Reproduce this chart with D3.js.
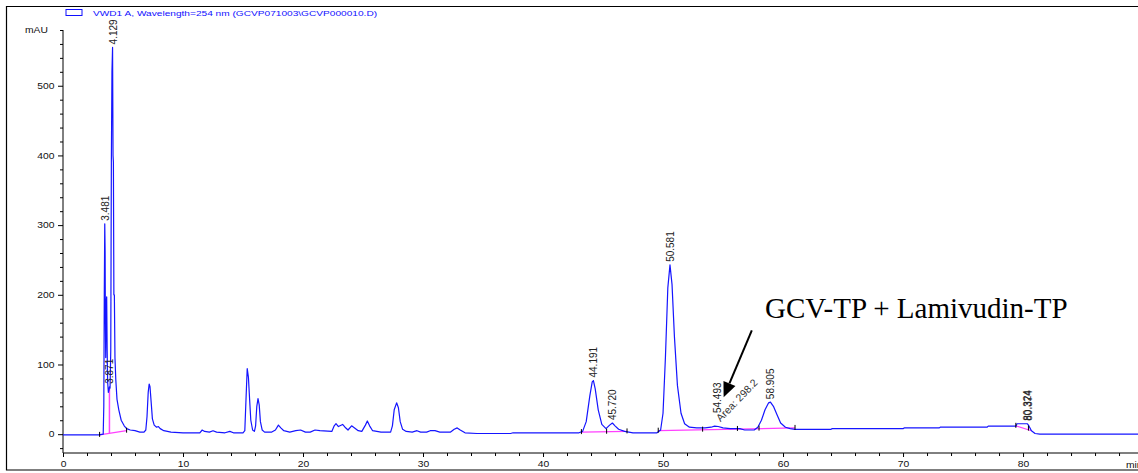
<!DOCTYPE html>
<html>
<head>
<meta charset="utf-8">
<script src="https://cdn.jsdelivr.net/npm/d3@7"></script>
<style>
  body { margin: 0; background: #fff; }
  svg { display: block; font-family: Arial, "Liberation Sans", sans-serif; }
</style>
</head>
<body>
<div id="chart"></div>
<script>
// detector trace: [retention time (min), absorbance (mAU)]
var trace = [
  [0,-1],[3.0,-1],[3.35,0],[3.40,40],[3.44,200],[3.48,302],[3.51,260],[3.53,160],[3.56,110],[3.60,190],
  [3.64,197],[3.68,120],[3.72,75],[3.78,60],[3.84,64],[3.87,68],[3.92,66],[3.98,120],[4.03,390],[4.08,520],
  [4.13,555],[4.17,400],[4.20,390],[4.24,200],[4.28,200],[4.33,110],[4.40,78],[4.5,50],[4.65,35],[4.85,20],
  [5.1,12],[5.3,8],[5.6,6],[6.0,5],[6.4,3],[6.75,3],
  [6.9,6],[7.0,25],[7.1,60],[7.18,72],[7.25,68],[7.35,45],[7.45,22],[7.6,13],[7.8,10],[7.95,11],
  [8.1,8],[8.4,5],[9.0,3],[10.0,2],[11.4,2],[11.6,6],[11.8,4],[12.2,3],[12.5,5],[12.8,3],
  [13.5,2],[13.9,4],[14.2,2],[15.0,2],
  [15.15,5],[15.25,50],[15.35,94],[15.45,82],[15.55,50],[15.65,20],[15.8,6],[15.95,4],[16.05,12],[16.15,40],
  [16.25,51],[16.35,42],[16.45,18],[16.6,6],[16.8,3],[17.4,3],[17.7,6],[17.95,13],[18.15,9],[18.4,5],
  [18.9,3],[19.4,5],[19.8,6],[20.2,3],[20.6,3],[21.0,6],[21.4,5],[22.4,4],[22.6,12],[22.75,15],
  [22.95,11],[23.3,14],[23.5,10],[23.75,6],[24.05,12],[24.3,9],[24.6,5],[24.9,4],[25.2,13],[25.36,19],
  [25.55,12],[25.8,5],[26.5,3],[27.3,3],
  [27.45,12],[27.6,35],[27.8,45],[27.95,38],[28.1,18],[28.3,7],[28.6,4],[29.1,3],[29.5,5],[29.8,3],
  [30.3,3],[30.6,5],[31.0,5],[31.4,3],[32.3,3],[32.6,7],[32.85,9],[33.1,6],[33.5,2],[34.5,1],
  [37.3,1],[37.5,2],[43.0,2],
  [43.3,4],[43.6,18],[43.9,55],[44.1,75],[44.2,77],[44.35,65],[44.6,35],[44.9,14],[45.25,8],[45.55,13],
  [45.78,16],[46.0,12],[46.3,7],[46.8,4],[47.5,2],[49.5,2],[49.8,6],[50.0,30],[50.2,110],[50.4,210],
  [50.58,243],[50.75,215],[50.95,140],[51.2,70],[51.5,30],[51.8,15],[52.2,10],[52.8,9],[53.5,9],[54.0,10],
  [54.3,11.5],[54.6,11],[55.0,9],[55.6,8],[56.4,8],[56.8,6],[57.6,6],[57.9,10],[58.2,20],[58.5,35],
  [58.8,45],[58.95,46],[59.2,40],[59.5,28],[59.8,16],[60.2,10],[60.6,8],[61.0,7],[64.0,7],[64.1,8],
  [70.0,8],[70.1,9],[73.0,9],[73.1,10],[77.0,10],[77.1,11.5],[79.4,11.5],[79.5,15],[80.35,15],[80.45,13],
  [80.7,5],[81.0,1],[81.4,0],[89.6,0]
];

// integration baselines (pink): [t0, v0, t1, v1]
var baselines = [[3.05,-1,5.3,5],[43.2,3,47.0,4],[49.6,5,61.0,9],[79.4,12,80.7,5]];
// peak start/stop tick marks on the baselines: [t, mAU]
var baseTicks = [[3.05,-1],[5.3,5],[43.2,3],[45.3,3.5],[47.0,4],[49.6,5],[53.3,6.5],[56.2,7.5],[58.0,8],[61.0,9],[79.4,12],[80.45,8]];
// drop line under the 3.871 shoulder
var dropLine = [3.87, 1.5, 65];

// peak labels: retention time and the level the label starts from
var peakRT = [3.481, 3.871, 4.129, 44.191, 45.720, 50.581, 54.493, 58.905, 80.324, 80.374];
var peakH  = [302, 68, 555, 77, 16, 243, 26, 46, 15, 15];

// axes
var yMajor = [0, 100, 200, 300, 400, 500];
var xMajor = [0, 10, 20, 30, 40, 50, 60, 70, 80];

var legendText = "VWD1 A, Wavelength=254 nm (GCVP071003\\GCVP000010.D)";
var noteText = "GCV-TP + Lamivudin-TP";
var areaText = "Area: 298.2";

var width = 1138, height = 473;
var svg = d3.select("#chart").append("svg")
  .attr("width", width).attr("height", height);

var x = d3.scaleLinear().domain([0, 89.58]).range([63, 1138]);
var y = d3.scaleLinear().domain([-27, 580]).range([453, 30]);

var stretch = 1.2;   // the instrument font is drawn wide
var tickFont = 8.6;

// outer frame
svg.append("path")
  .attr("d", "M1138,6.5H6.5V470H1138")
  .attr("fill", "none").attr("stroke", "#000").attr("stroke-width", 1.2);

// legend
svg.append("rect").attr("x", 66).attr("y", 9.5).attr("width", 16).attr("height", 6)
  .attr("fill", "none").attr("stroke", "#1010ff").attr("stroke-width", 1);
svg.append("text").attr("transform", "translate(93,16) scale(1.3,1)")
  .attr("font-size", 7.8).attr("fill", "#1010ff").text(legendText);

// y axis
var yAxis = d3.axisLeft(y).tickValues(d3.range(-20, 581, 20))
  .tickSize(3).tickFormat(function(d){ return yMajor.indexOf(d) >= 0 ? d : ""; });
var gy = svg.append("g").attr("transform", "translate(63,0)").call(yAxis);
gy.attr("font-family", null);
gy.select(".domain").attr("d", "M0,30V453").attr("stroke", "#000");
gy.selectAll(".tick line").attr("x2", function(d){ return yMajor.indexOf(d) >= 0 ? -5 : -3; });
gy.selectAll(".tick text")
  .attr("x", -8.5 / stretch).attr("transform", "scale(" + stretch + ",1)")
  .attr("font-size", tickFont).attr("fill", "#111");
svg.append("text").attr("transform", "translate(25,33) scale(" + stretch + ",1)")
  .attr("font-size", tickFont).attr("fill", "#111").text("mAU");

// x axis
var xAxis = d3.axisBottom(x).tickValues(d3.range(0, 89, 2))
  .tickSize(3).tickFormat(function(d){ return xMajor.indexOf(d) >= 0 ? d : ""; });
var gx = svg.append("g").attr("transform", "translate(0,453)").call(xAxis);
gx.attr("font-family", null);
gx.select(".domain").attr("d", "M63,0H1138").attr("stroke", "#000");
gx.selectAll(".tick line").attr("y2", function(d){ return xMajor.indexOf(d) >= 0 ? 4 : 3; });
gx.selectAll(".tick text")
  .attr("y", 8).attr("dy", "0.71em").attr("transform", "scale(" + stretch + ",1)")
  .attr("font-size", tickFont).attr("fill", "#111");
svg.append("text").attr("transform", "translate(1126,468) scale(" + stretch + ",1)")
  .attr("font-size", tickFont).attr("fill", "#111").text("min");

// integration baselines
svg.append("g").selectAll("line").data(baselines).enter().append("line")
  .attr("x1", function(d){ return x(d[0]); }).attr("y1", function(d){ return y(d[1]); })
  .attr("x2", function(d){ return x(d[2]); }).attr("y2", function(d){ return y(d[3]); })
  .attr("stroke", "#ff40ff").attr("stroke-width", 1.2);
svg.append("line")
  .attr("x1", x(dropLine[0])).attr("x2", x(dropLine[0]))
  .attr("y1", y(dropLine[1])).attr("y2", y(dropLine[2]))
  .attr("stroke", "#ff40ff").attr("stroke-width", 1.5);

// trace
var line = d3.line().x(function(d){ return x(d[0]); }).y(function(d){ return y(d[1]); });
svg.append("path").datum(trace)
  .attr("d", line).attr("fill", "none")
  .attr("stroke", "#1515ff").attr("stroke-width", 1.2).attr("stroke-linejoin", "round");

// peak start/stop ticks
svg.append("g").selectAll("line").data(baseTicks).enter().append("line")
  .attr("x1", function(d){ return x(d[0]); }).attr("x2", function(d){ return x(d[0]); })
  .attr("y1", function(d){ return y(d[1]) - 3; }).attr("y2", function(d){ return y(d[1]) + 2; })
  .attr("stroke", "#000").attr("stroke-width", 1);

// retention time labels
svg.append("g").selectAll("text").data(peakRT).enter().append("text")
  .attr("transform", function(d, i){
    return "translate(" + (x(d) + 0.5) + "," + (y(peakH[i]) - 3) + ") rotate(-90)";
  })
  .attr("dy", "0.35em").attr("font-size", 10).attr("fill", "#222")
  .text(function(d){ return d3.format(".3f")(d); });

// area label on the small peak
svg.append("text")
  .attr("transform", "translate(" + x(54.8) + "," + y(17) + ") rotate(-46)")
  .attr("font-size", 10.5).attr("fill", "#333").text(areaText);

// annotation with arrow
var arrowFrom = [57.4, 149], arrowTo = [55.05, 53];
var x0 = x(arrowFrom[0]), y0 = y(arrowFrom[1]), x1 = x(arrowTo[0]), y1 = y(arrowTo[1]);
var len = Math.hypot(x1 - x0, y1 - y0), ux = (x1 - x0) / len, uy = (y1 - y0) / len;
var head = 15, half = 6.5;
var bx = x1 - ux * head, by = y1 - uy * head;
svg.append("line").attr("x1", x0).attr("y1", y0).attr("x2", bx).attr("y2", by)
  .attr("stroke", "#000").attr("stroke-width", 2);
svg.append("path")
  .attr("d", "M" + x1 + "," + y1 + "L" + (bx - uy * half) + "," + (by + ux * half) +
             "L" + (bx + uy * half) + "," + (by - ux * half) + "Z")
  .attr("fill", "#000");
svg.append("text").attr("x", 765).attr("y", 318)
  .style("font-family", "'Liberation Serif', 'Times New Roman', serif")
  .attr("font-size", 29).attr("fill", "#000").text(noteText);
</script>
</body>
</html>
